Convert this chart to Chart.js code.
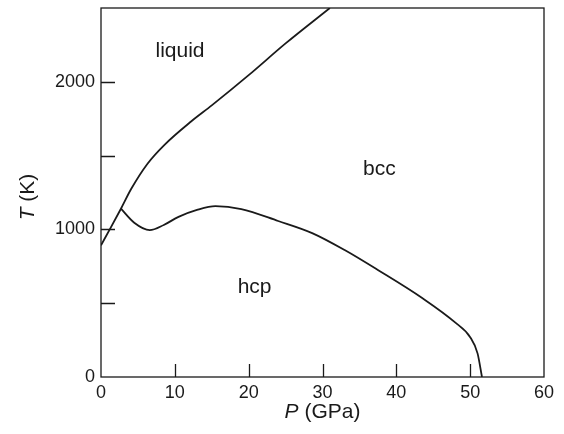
<!DOCTYPE html>
<html>
<head>
<meta charset="utf-8">
<script src="https://cdn.jsdelivr.net/npm/chart.js@4/dist/chart.umd.min.js"></script>
<style>
  html, body { margin: 0; padding: 0; background: #fff; }
  #wrap { width: 564px; height: 434px; }
</style>
</head>
<body>
<div id="wrap"><canvas id="phase" width="564" height="434"></canvas></div>
<script>
// melting curve (solid/liquid boundary)
const meltP = [0, 1.3, 2.7, 4.1, 6.3, 8.6, 12.2, 15, 20, 25, 31];
const meltT = [892, 1010, 1140, 1275, 1445, 1573, 1731, 1840, 2045, 2260, 2500];

// hcp / bcc boundary
const hcpBccP = [2.7, 4.5, 6.6, 8.5, 10.5, 13, 15.5, 19, 24, 28.6, 33, 37.5, 43.5, 48, 50, 51, 51.6];
const hcpBccT = [1140, 1045, 995, 1030, 1085, 1132, 1158, 1138, 1057, 975, 860, 725, 535, 368, 270, 160, 0];

const xTicks = [0, 10, 20, 30, 40, 50, 60];
const yTicks = [0, 1000, 2000];

const phaseLabels = ['liquid', 'bcc', 'hcp'];
const labelP = [10.7, 37.7, 20.8];
const labelT = [2205, 1410, 610];

const toPts = (xs, ys) => xs.map((x, i) => ({ x: x, y: ys[i] }));

const fontFam = '"Liberation Sans", Arial, sans-serif';
const ink = '#1a1a1a';

// frame, inward ticks, region labels, axis titles
const decorPlugin = {
  id: 'decor',
  afterDraw(chart) {
    const { ctx, chartArea: a, scales: { x, y } } = chart;
    ctx.save();
    ctx.strokeStyle = ink;
    ctx.lineWidth = 1.3;
    ctx.strokeRect(a.left, a.top, a.right - a.left, a.bottom - a.top);

    ctx.beginPath();
    x.ticks.forEach(t => {
      if (t.value <= x.min || t.value >= x.max) return;
      const px = Math.round(x.getPixelForValue(t.value)) + 0.5;
      ctx.moveTo(px, a.bottom);
      ctx.lineTo(px, a.bottom - 13);
    });
    y.ticks.forEach(t => {
      if (t.value <= y.min || t.value >= y.max) return;
      const py = Math.round(y.getPixelForValue(t.value)) + 0.5;
      ctx.moveTo(a.left, py);
      ctx.lineTo(a.left + 14, py);
    });
    ctx.stroke();

    ctx.fillStyle = ink;
    ctx.font = '21px ' + fontFam;
    ctx.textAlign = 'center';
    ctx.textBaseline = 'middle';
    phaseLabels.forEach((s, i) => {
      ctx.fillText(s, x.getPixelForValue(labelP[i]), y.getPixelForValue(labelT[i]));
    });

    // x title: italic P + (GPa)
    const tf = '21px ' + fontFam;
    const cx = (a.left + a.right) / 2;
    ctx.textAlign = 'left';
    ctx.font = 'italic ' + tf;
    const wP = ctx.measureText('P').width;
    ctx.font = tf;
    const wR = ctx.measureText(' (GPa)').width;
    let sx = cx - (wP + wR) / 2;
    ctx.font = 'italic ' + tf;
    ctx.fillText('P', sx, 412);
    ctx.font = tf;
    ctx.fillText(' (GPa)', sx + wP, 412);

    // y title: italic T + (K), rotated
    ctx.translate(28, 197);
    ctx.rotate(-Math.PI / 2);
    ctx.font = 'italic ' + tf;
    const wT = ctx.measureText('T').width;
    ctx.font = tf;
    const wK = ctx.measureText(' (K)').width;
    sx = -(wT + wK) / 2;
    ctx.font = 'italic ' + tf;
    ctx.fillText('T', sx, 0);
    ctx.font = tf;
    ctx.fillText(' (K)', sx + wT, 0);
    ctx.restore();
  }
};

const lineStyle = {
  borderColor: ink,
  borderWidth: 1.8,
  pointRadius: 0,
  showLine: true,
  fill: false,
  tension: 0.4,
  cubicInterpolationMode: 'monotone'
};

new Chart(document.getElementById('phase'), {
  type: 'scatter',
  data: {
    datasets: [
      Object.assign({ label: 'melting', data: toPts(meltP, meltT) }, lineStyle),
      Object.assign({ label: 'hcp-bcc', data: toPts(hcpBccP, hcpBccT) }, lineStyle)
    ]
  },
  options: {
    responsive: false,
    animation: false,
    layout: { padding: { top: 8, right: 20, left: 0, bottom: 0 } },
    plugins: {
      legend: { display: false },
      tooltip: { enabled: false }
    },
    scales: {
      x: {
        type: 'linear',
        min: 0,
        max: 60,
        afterBuildTicks(s) { s.ticks = xTicks.map(v => ({ value: v })); },
        afterFit(s) { s.height = 57; s.paddingLeft = 0; s.paddingRight = 0; },
        grid: { display: false, drawTicks: false },
        border: { display: false },
        ticks: {
          color: ink,
          font: { family: fontFam, size: 18 },
          padding: 5,
          maxRotation: 0
        }
      },
      y: {
        type: 'linear',
        min: 0,
        max: 2500,
        ticks: {
          stepSize: 500,
          color: ink,
          font: { family: fontFam, size: 18 },
          padding: 6,
          callback: v => (yTicks.includes(v) ? String(v) : '')
        },
        afterFit(s) { s.width = 101; s.paddingTop = 0; s.paddingBottom = 0; },
        grid: { display: false, drawTicks: false },
        border: { display: false }
      }
    }
  },
  plugins: [decorPlugin]
});
</script>
</body>
</html>
